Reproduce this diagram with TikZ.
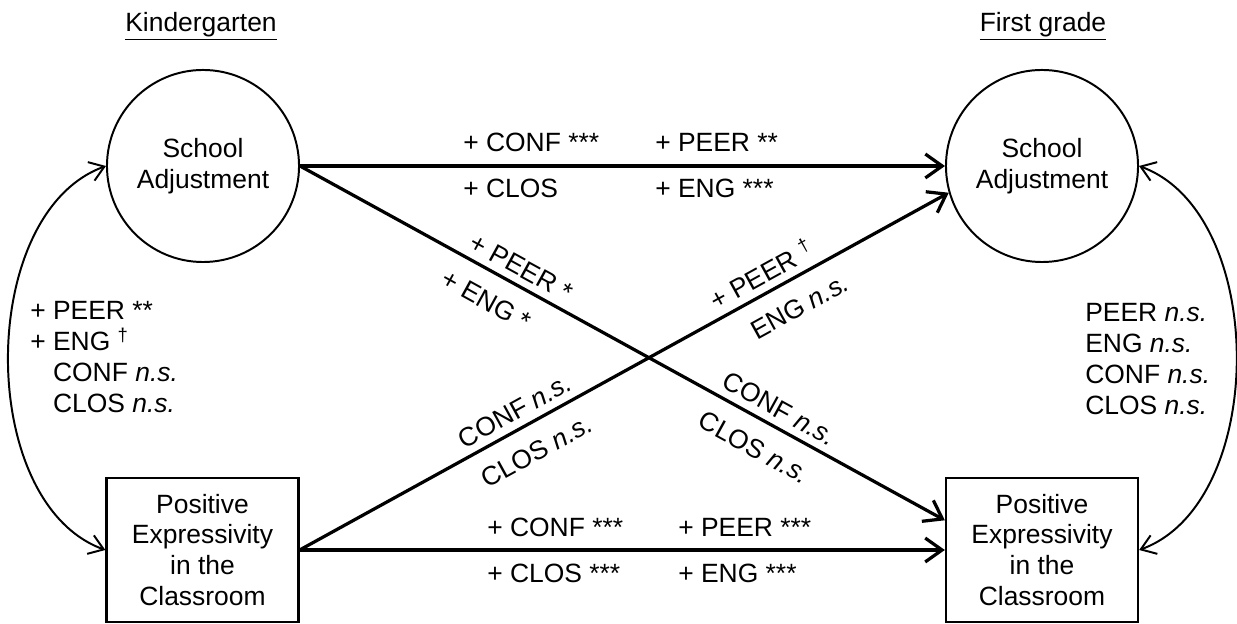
\documentclass[tikz,border=0pt]{standalone}
\usepackage{fontspec}
\setmainfont{Liberation Sans}
\usetikzlibrary{arrows.meta}
\tikzstyle{node:latent}=[circle,draw,line width=1.4pt,minimum size=4.8cm,inner sep=0pt,align=center]
\tikzstyle{node:observed}=[rectangle,draw,line width=1.6pt,minimum width=4.8cm,minimum height=3.6cm,inner sep=0pt,align=center]
\tikzstyle{node:coef}=[inner sep=0pt,anchor=base west]
\tikzstyle{node:coefabove}=[sloped,above,inner sep=5pt]
\tikzstyle{node:coefbelow}=[sloped,below,inner sep=12pt]
\tikzstyle{draw:path}=[line width=2.3pt,-{Straight Barb[length=12pt,width=17pt]}]
\tikzstyle{draw:cov}=[line width=1.4pt,{Straight Barb[length=10pt,width=14pt]}-{Straight Barb[length=10pt,width=14pt]}]
\newcommand{\ns}{\textit{n.s.}}

\begin{document}
\begin{tikzpicture}[x=0.025cm,y=0.025cm,font=\fontsize{18.8}{22}\selectfont]
        \useasboundingbox (0,0) rectangle (1237,624);

        % Kindergarten
        \node[anchor=base] (T-K) at (201,592) {\underline{Kindergarten}};
        \node[node:latent] (SA-K) at (203,458) {School\\Adjustment};
        \node[node:observed] (PE-K) at (202.5,74) {Positive\\Expressivity\\in the\\Classroom};

        % First grade
        \node[anchor=base] (T-G1) at (1043,592) {\underline{First grade}};
        \node[node:latent] (SA-G1) at (1042,458) {School\\Adjustment};
        \node[node:observed] (PE-G1) at (1042,74) {Positive\\Expressivity\\in the\\Classroom};

        % stability paths
        \draw[draw:path] (SA-K.east) -- (SA-G1.west);
        \draw[draw:path] (PE-K.east) -- (PE-G1.west);

        % cross-lagged paths
        \draw[draw:path] (SA-K.east) -- (PE-G1.163)
                node[node:coefabove,pos=0.33] (c-peer1) {+ PEER *}
                node[node:coefbelow,pos=0.31] (c-eng1) {+ ENG *}
                node[node:coefabove,pos=0.73] (c-conf1) {CONF \ns}
                node[node:coefbelow,pos=0.725] (c-clos1) {CLOS \ns};
        \draw[draw:path] (PE-K.east) -- (SA-G1.196)
                node[node:coefabove,pos=0.345] (c-conf2) {CONF \ns}
                node[node:coefbelow,pos=0.345] (c-clos2) {CLOS \ns}
                node[node:coefabove,pos=0.725] (c-peer2) {+ PEER \textsuperscript{†}}
                node[node:coefbelow,pos=0.75] (c-eng2) {ENG \ns};

        % within-time covariances
        \draw[draw:cov] (SA-K.west) to[out=200,in=160,looseness=0.92] (PE-K.west);
        \draw[draw:cov] (SA-G1.east) to[out=-20,in=20,looseness=0.92] (PE-G1.east);

        % coefficients on the stability paths
        \node[node:coef] (s-conf1) at (463,472) {+ CONF ***};
        \node[node:coef] (s-peer1) at (655,472) {+ PEER **};
        \node[node:coef] (s-clos1) at (463,426) {+ CLOS};
        \node[node:coef] (s-eng1) at (655,426) {+ ENG ***};
        \node[node:coef] (s-conf2) at (487,87) {+ CONF ***};
        \node[node:coef] (s-peer2) at (678,87) {+ PEER ***};
        \node[node:coef] (s-clos2) at (487,41) {+ CLOS ***};
        \node[node:coef] (s-eng2) at (678,41) {+ ENG ***};

        % coefficients on the covariances
        \node[anchor=north west,align=left,inner sep=0pt] (v-K) at (30,323)
                {+ PEER **\\+ ENG \textsuperscript{†}\\\phantom{+ }CONF \ns\\\phantom{+ }CLOS \ns};
        \node[anchor=north west,align=left,inner sep=0pt] (v-G1) at (1085,321)
                {PEER \ns\\ENG \ns\\CONF \ns\\CLOS \ns};
    \end{tikzpicture}
\end{document}
